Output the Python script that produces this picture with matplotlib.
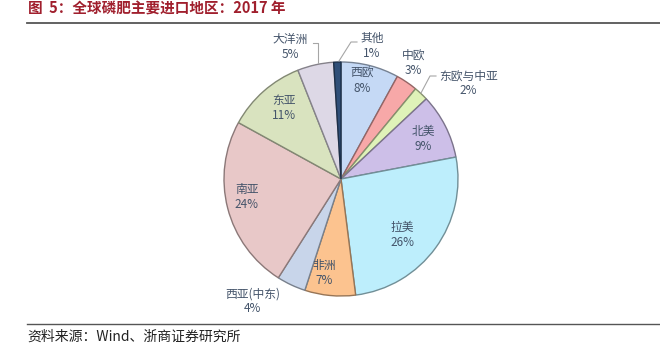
import numpy as np
import matplotlib
matplotlib.use("Agg")
import matplotlib.pyplot as plt

plt.rcParams['font.family'] = ['Noto Sans CJK SC', 'DejaVu Sans']

# data, clockwise from 12 o'clock
regions = ['西欧', '中欧', '东欧与中亚', '北美', '拉美', '非洲',
           '西亚(中东)', '南亚', '东亚', '大洋洲', '其他']
shares = [8, 3, 2, 9, 26, 7, 4, 24, 11, 5, 1]

colors = ['#c5d9f5', '#f7a8a8', '#dff2b8', '#cdbfe8', '#bdeefc', '#fcc38f',
          '#c8d5ea', '#e8c8c8', '#d9e3bf', '#ddd8e6', '#2f4f78']

# label placement (radius, angle in degrees) relative to pie centre
label_pos = [(0.86, 78), (1.17, 58), (1.36, 37), (0.78, 26), (0.71, -42),
             (0.82, -100), (1.29, -126), (0.82, -169), (0.78, 129),
             (1.21, 111), (1.17, 77)]

W, H = 660, 354
cx, cy, R = 341, 179, 117

fig = plt.figure(figsize=(W / 100, H / 100), dpi=100)
ax = fig.add_axes([(cx - R) / W, (H - cy - R) / H, 2 * R / W, 2 * R / H])

def darker(c, f=0.6):
    rgb = np.array(matplotlib.colors.to_rgb(c))
    return tuple(rgb * f)

wedges, _ = ax.pie(shares, colors=colors, startangle=90, counterclock=False,
                   radius=1.0, wedgeprops=dict(linewidth=1.0))
for w, c in zip(wedges, colors):
    w.set_edgecolor(darker(c, 0.6))
ax.set_xlim(-1, 1)
ax.set_ylim(-1, 1)
ax.set_aspect('auto')
ax.axis('off')

txt_color = '#44546a'
for name, v, (r, a) in zip(regions, shares, label_pos):
    x = r * np.cos(np.radians(a))
    y = r * np.sin(np.radians(a))
    ax.text(x, y, f'{name}\n{v}%', ha='center', va='center', fontsize=8.5,
            color=txt_color, linespacing=1.2, clip_on=False)

# leader lines for outer labels
lc = '#a6a6a6'
def lead(pts):
    xs = [p[0] for p in pts]
    ys = [p[1] for p in pts]
    ax.plot(xs, ys, color=lc, lw=0.8, clip_on=False)

def px(x, y):
    return ((x - cx) / R, (cy - y) / R)

lead([px(313, 43), px(318, 43), px(318, 63)])
lead([px(357, 42), px(351, 42), px(339, 61)])
lead([px(436, 76), px(430, 76), px(421, 93)])

# title, rules and source
fig.text(28 / W, 1 - 9 / H, '图  5：全球磷肥主要进口地区：2017 年', fontsize=10.5,
         fontweight='bold', color='#a01f2d', ha='left', va='center')
fig.add_artist(plt.Line2D([27 / W, 1], [1 - 23 / H, 1 - 23 / H], color='#555555', lw=1.3))
fig.add_artist(plt.Line2D([27 / W, 1], [1 - 324 / H, 1 - 324 / H], color='#555555', lw=1.0))
fig.text(27 / W, 1 - 337 / H, '资料来源：Wind、浙商证券研究所', fontsize=10,
         color='#222222', ha='left', va='center')

fig.savefig('out.png', dpi=100)
